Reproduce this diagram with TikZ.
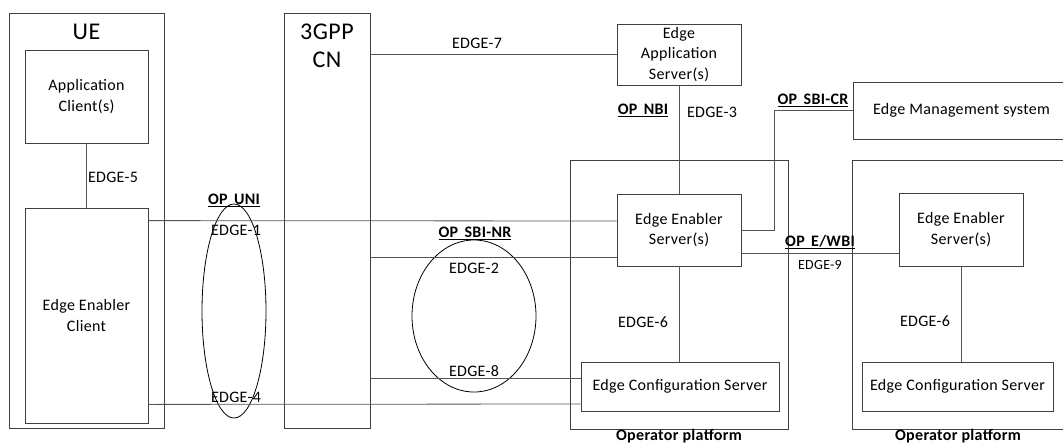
\documentclass[tikz,border=0pt]{standalone}
\usepackage{fontspec}
\setmainfont{Carlito}[LetterSpace=2]
\usepackage{xcolor}
\definecolor{frame}{HTML}{404040}
\definecolor{wire}{HTML}{555555}
\usepackage{tikz}
\usetikzlibrary{shapes.geometric,calc}

\begin{document}
\begin{tikzpicture}[
  x=1pt, y=-1pt,
  box/.style={draw=frame, line width=0.8pt, align=center, inner sep=0pt,
              font=\fontsize{16}{20.5}\selectfont},
  lbl/.style={font=\fontsize{16}{20}\selectfont, inner sep=0pt, align=center},
  oplbl/.style={font=\fontsize{16}{20}\selectfont\bfseries, inner sep=0pt},
  big/.style={font=\fontsize{24}{28}\selectfont, inner sep=0pt, align=center},
  conn/.style={line width=0.8pt, color=wire},
  ring/.style={draw=black, line width=0.8pt, ellipse, inner sep=0pt}
]
\useasboundingbox (0,0) rectangle (1063,445);
\node[box, minimum width=155pt, minimum height=415pt] (ue) at (86.5,220.5) {};
\node[big] (uetitle) at (86.5,32) {UE};
\node[box, minimum width=123pt, minimum height=93pt] (appc) at (86.5,96.5) {Application\\Client(s)};
\node[box, minimum width=123pt, minimum height=215pt] (eec) at (86.5,315.5) {Edge Enabler\\Client};
\node[box, minimum width=86pt, minimum height=415pt] (cn) at (327,220.5) {};
\node[big] (cntitle) at (327,46) {3GPP\\CN};
\node[box, minimum width=124pt, minimum height=61pt] (eas) at (679,54.5) {Edge\\Application\\Server(s)};
\node[box, minimum width=218pt, minimum height=269pt] (op1) at (679,294.5) {};
\node[box, minimum width=124pt, minimum height=72pt] (ees1) at (679,230) {Edge Enabler\\Server(s)};
\node[box, minimum width=198pt, minimum height=49pt] (ecs1) at (680,386.5) {Edge Configuration Server};
\node[box, minimum width=217pt, minimum height=57pt] (ems) at (961.5,110.5) {Edge Management system};
\node[box, minimum width=217pt, minimum height=269pt] (op2) at (960.5,294.5) {};
\node[box, minimum width=124pt, minimum height=73pt] (ees2) at (961,229.5) {Edge Enabler\\Server(s)};
\node[box, minimum width=191pt, minimum height=49pt] (ecs2) at (957.5,386.5) {Edge Configuration Server};
\node[ring, minimum width=64pt, minimum height=214pt] (uni) at (234,311) {};
\node[ring, minimum width=124pt, minimum height=152pt] (sbinr) at (474,316) {};
\draw[conn] (appc) -- (eec);
\draw[conn] ([yshift=-13pt]eec.north east) -- ([yshift=9pt]ees1.west);
\draw[conn] ([yshift=19pt]eec.south east) -- ([yshift=-17.5pt]ecs1.west);
\draw[conn] (eas.west -| cn.east) -- (eas.west);
\draw[conn] ([yshift=-36.5pt]cn.east) -- ([yshift=-27pt]ees1.west);
\draw[conn] ([yshift=-157.5pt]cn.east) -- ([yshift=8.5pt]ecs1.west);
\draw[conn] (eas) -- (ees1);
\draw[conn] (ees1.south) -- (ees1.south |- ecs1.north);
\draw[conn] (ees1.east) -- ++(33,0) |- (ems.west);
\draw[conn] ([yshift=-23pt]ees1.east) -- ([yshift=-23.5pt]ees2.west);
\draw[conn] (ees2.south) -- (ees2.south |- ecs2.north);
\node[lbl] (e5) at (113,177) {EDGE-5};
\node[oplbl] (opuni) at (234,200) {\underline{OP\hspace{0.4em}UNI}};
\node[lbl] (e1) at (236,230) {EDGE-1};
\node[lbl] (e4) at (236,397) {EDGE-4};
\node[lbl] (e7) at (477,43) {EDGE-7};
\node[oplbl] (opnbi) at (643,110) {\underline{OP\hspace{0.4em}NBI}};
\node[lbl] (e3) at (712,112) {EDGE-3};
\node[oplbl] (opsbinr) at (475,233) {\underline{OP\hspace{0.4em}SBI-NR}};
\node[lbl] (e2) at (474,268) {EDGE-2};
\node[lbl] (e8) at (474,371) {EDGE-8};
\node[lbl] (e6a) at (643,322) {EDGE-6};
\node[oplbl] (opsbicr) at (813,100) {\underline{OP\hspace{0.4em}SBI-CR}};
\node[oplbl] (opewbi) at (820,242) {\underline{OP\hspace{0.4em}E/WBI}};
\node[lbl, font=\fontsize{14}{17}\selectfont] (e9) at (820,265) {EDGE-9};
\node[lbl] (e6b) at (925,321) {EDGE-6};
\node[oplbl] (plat1) at (679,436) {Operator platform};
\node[oplbl] (plat2) at (958,436) {Operator platform};
\end{tikzpicture}
\end{document}
